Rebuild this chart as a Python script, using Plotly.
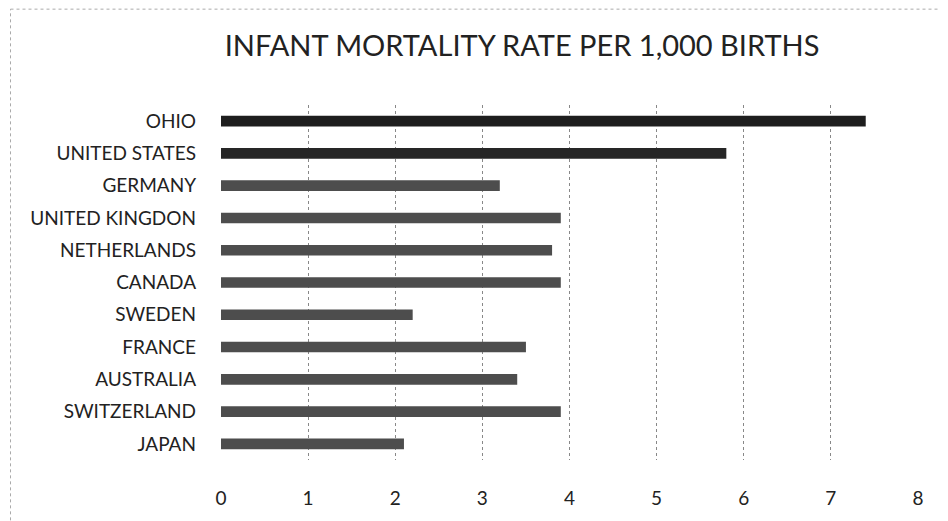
import plotly.graph_objects as go

countries = ["OHIO", "UNITED STATES", "GERMANY", "UNITED KINGDON", "NETHERLANDS",
             "CANADA", "SWEDEN", "FRANCE", "AUSTRALIA", "SWITZERLAND", "JAPAN"]
rates = [7.4, 5.8, 3.2, 3.9, 3.8, 3.9, 2.2, 3.5, 3.4, 3.9, 2.1]
bar_colors = ["#1e1e1e", "#262626", "#4d4d4d", "#4d4d4d", "#4d4d4d",
              "#4d4d4d", "#4d4d4d", "#4d4d4d", "#4d4d4d", "#4d4d4d", "#4d4d4d"]
x_ticks = [0, 1, 2, 3, 4, 5, 6, 7, 8]

fig = go.Figure(go.Bar(
    x=rates, y=countries, orientation="h",
    marker=dict(color=bar_colors, line=dict(width=0)),
    width=0.33,
))

fig.update_layout(
    width=940, height=513,
    margin=dict(l=213, r=30, t=97, b=61),
    paper_bgcolor="white", plot_bgcolor="white",
    font=dict(family="Lato, 'Noto Sans', sans-serif", color="#222222"),
    title=dict(text="INFANT MORTALITY RATE PER 1,000 BIRTHS",
               xref="paper", x=0.432, xanchor="center",
               yref="container", y=0.927, yanchor="middle",
               font=dict(size=29, color="#222222")),
    showlegend=False,
    xaxis=dict(range=[0, 8], tickvals=x_ticks, showgrid=True,
               gridcolor="#888888", griddash="dot", gridwidth=1,
               zeroline=False, showline=False, ticks="", automargin=False,
               tickfont=dict(size=19), ticklabelstandoff=25),
    yaxis=dict(autorange="reversed", showgrid=False, zeroline=False,
               showline=False, ticks="", automargin=False,
               tickfont=dict(size=19), ticklabelstandoff=24),
    shapes=[
        dict(type="line", xref="paper", yref="paper",
             x0=-0.302, x1=-0.302, y0=-0.17, y1=1.27,
             line=dict(color="#aaaaaa", width=1, dash="dot")),
        dict(type="line", xref="paper", yref="paper",
             x0=-0.302, x1=1.05, y0=1.27, y1=1.27,
             line=dict(color="#aaaaaa", width=1, dash="dot")),
    ],
)

fig.write_html("out.html")
